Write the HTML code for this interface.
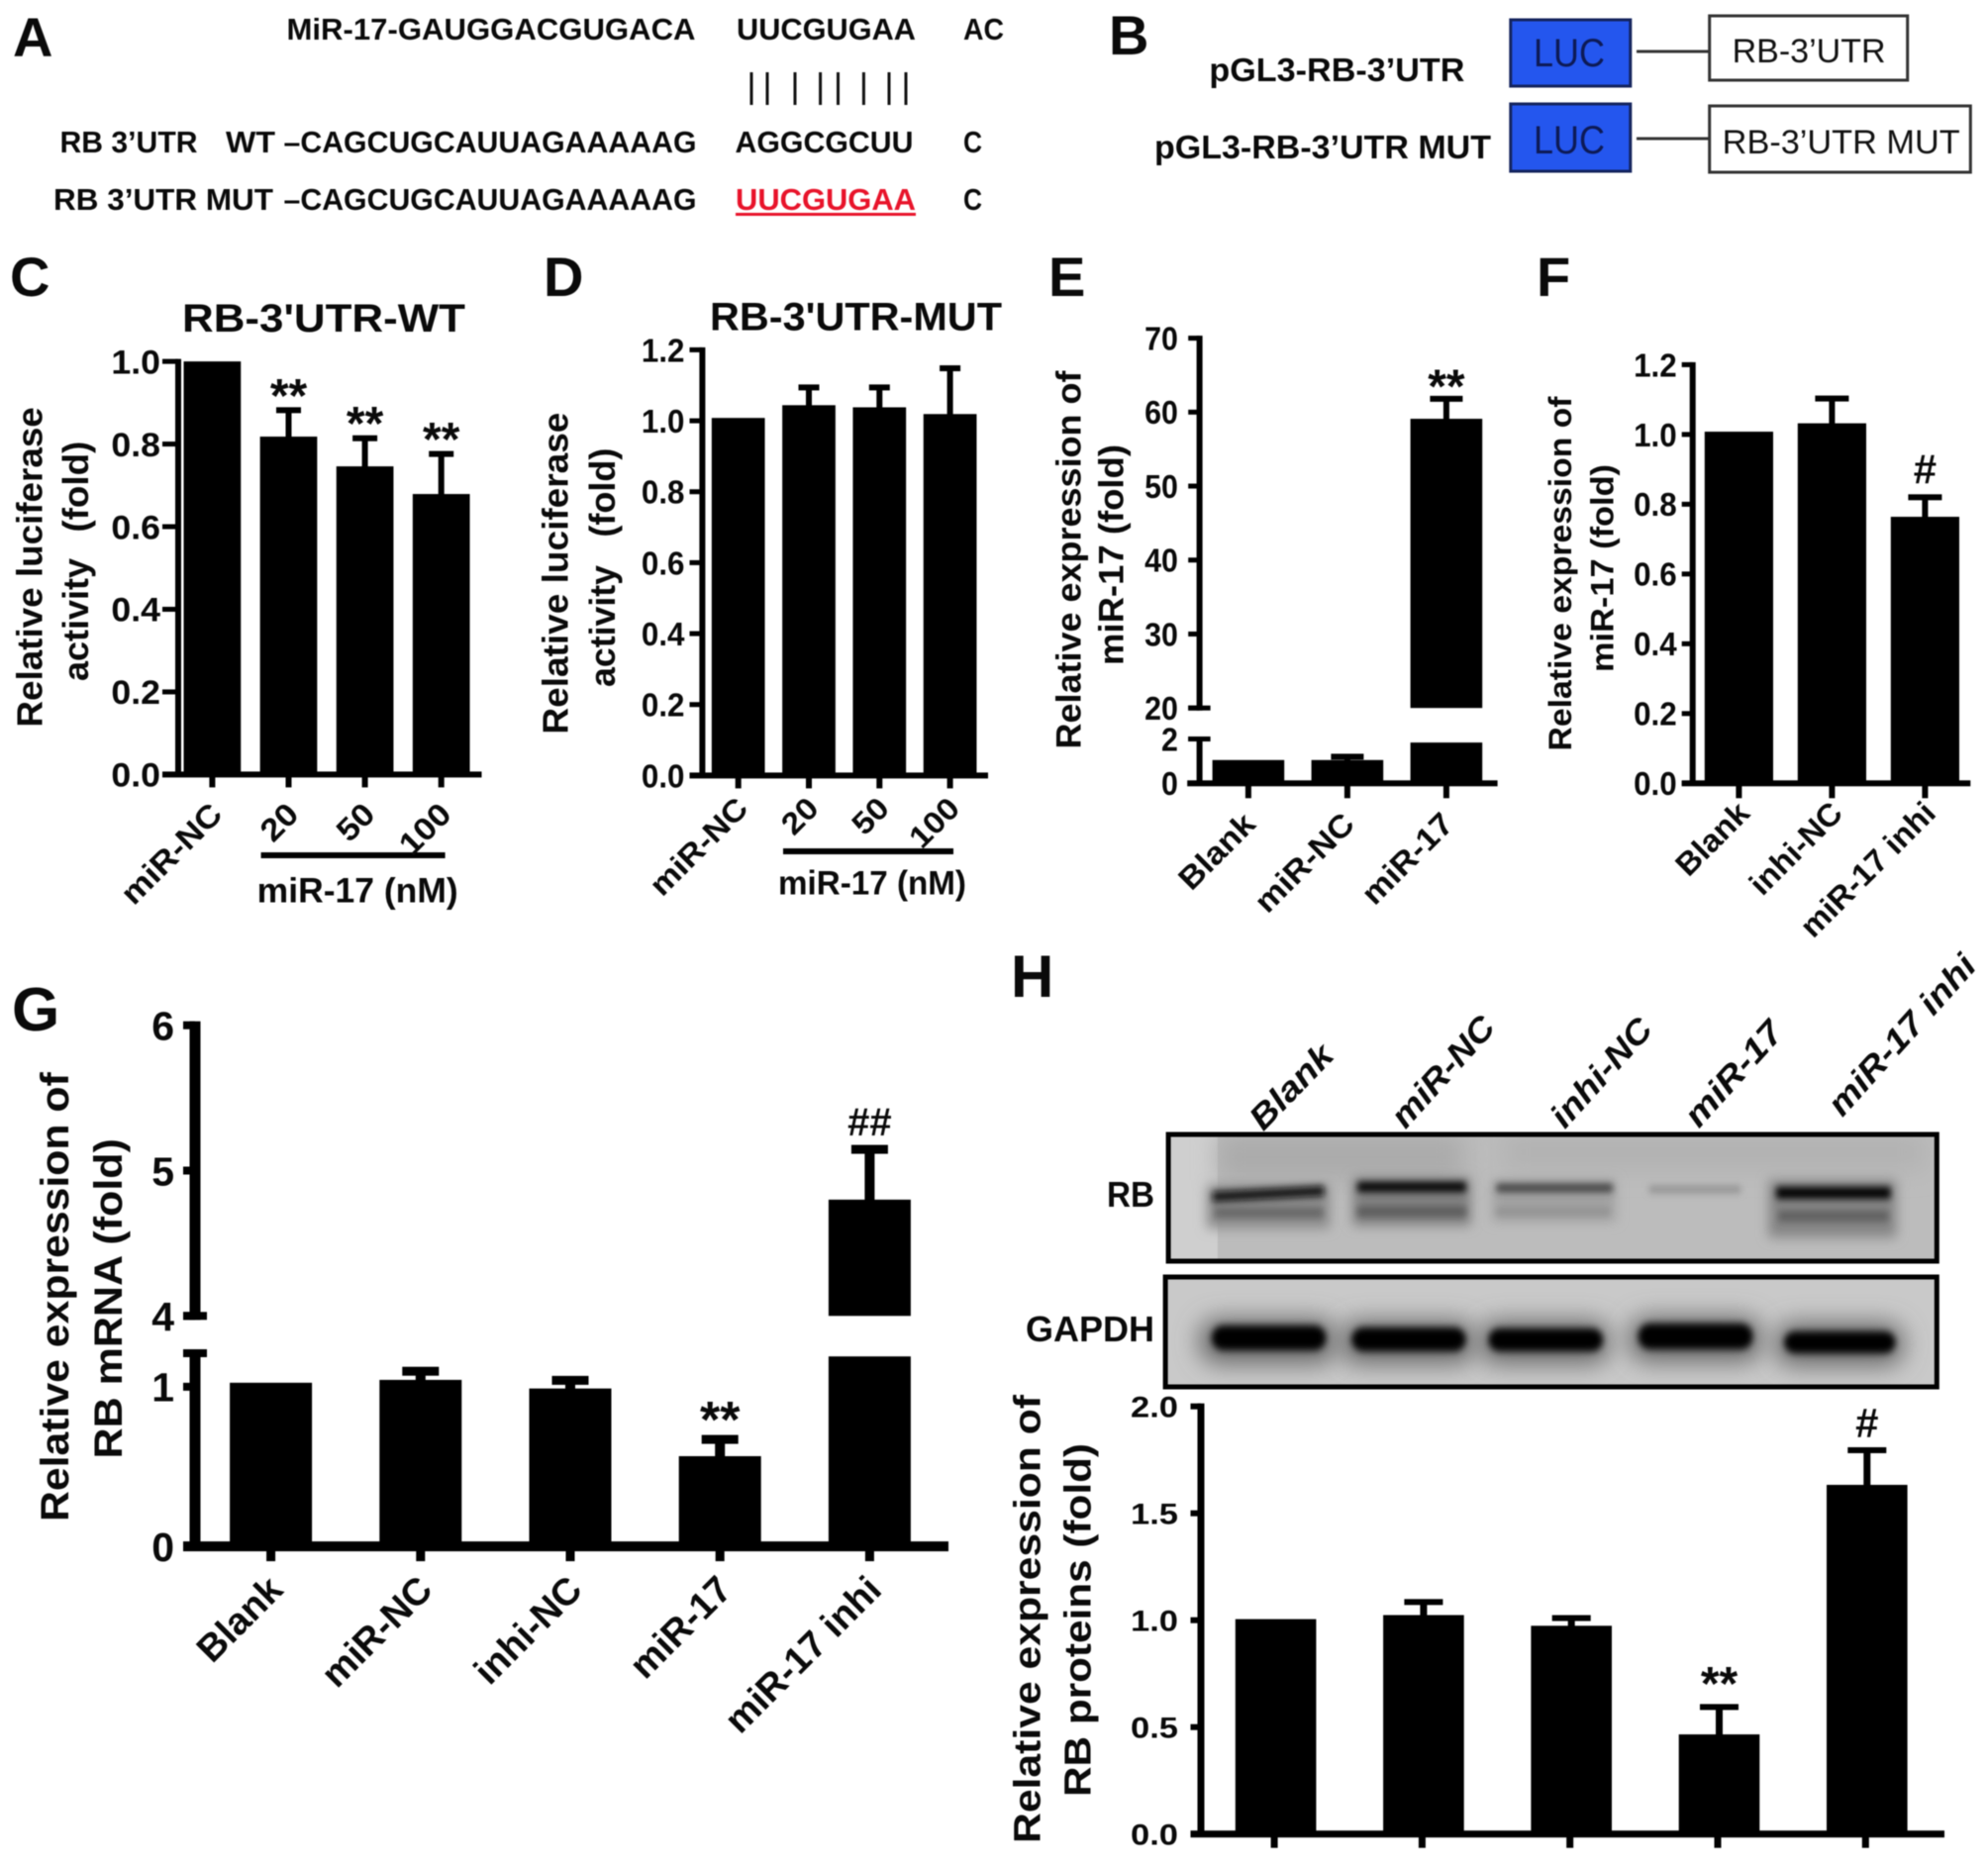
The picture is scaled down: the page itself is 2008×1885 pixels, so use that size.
<!DOCTYPE html>
<html lang="en">
<head>
<meta charset="utf-8">
<title>miR-17 RB figure</title>
<style>
html,body{margin:0;padding:0;background:#fff;}
#figure{display:block;width:2008px;height:1885px;filter:blur(0.6px);font-family:"Liberation Sans",sans-serif;}
#figure text{font-family:"Liberation Sans",sans-serif;fill:#0a0a0a;}
.b{font-weight:bold;}
.letter{font-weight:bold;font-size:56px;}
.seq{font-weight:bold;font-size:31px;fill:#111;}
.ytitle{font-weight:bold;font-size:36px;}
.ytitle-lg{font-weight:bold;font-size:40px;}
.title{font-weight:bold;font-size:40px;}
</style>
</head>
<body>
<svg id="figure" xmlns="http://www.w3.org/2000/svg" width="2008" height="1885" viewBox="0 0 2008 1885">
<defs>
<filter id="blur3" x="-20%" y="-150%" width="140%" height="400%"><feGaussianBlur stdDeviation="3.6"/></filter>
<filter id="blur5" x="-20%" y="-100%" width="140%" height="300%"><feGaussianBlur stdDeviation="6"/></filter>
<filter id="blur12" x="-30%" y="-150%" width="160%" height="400%"><feGaussianBlur stdDeviation="12"/></filter>
<clipPath id="rb-clip"><rect x="1181" y="1146" width="780" height="128"/></clipPath>
<clipPath id="gapdh-clip"><rect x="1178" y="1290" width="783" height="111"/></clipPath>
</defs>
<rect x="0" y="0" width="2008" height="1885" fill="#fff"/>

<!-- panel letters -->
<text class="letter" x="13" y="57">A</text>
<text class="letter" x="1120" y="55">B</text>
<text class="letter" x="10" y="299">C</text>
<text class="letter" x="549" y="299">D</text>
<text class="letter" x="1059" y="299">E</text>
<text class="letter" x="1552" y="299">F</text>
<text class="letter" x="12" y="1041" style="font-size:62px">G</text>
<text class="letter" x="1021" y="1007" style="font-size:60px">H</text>

<!-- panel A -->
<g>
<text class="seq" x="289.5" y="40" textLength="413" lengthAdjust="spacingAndGlyphs">MiR-17-GAUGGACGUGACA</text>
<text class="seq" x="744" y="40" textLength="181" lengthAdjust="spacingAndGlyphs">UUCGUGAA</text>
<text class="seq" x="973" y="40" textLength="41" lengthAdjust="spacingAndGlyphs">AC</text>
<g stroke="#111" stroke-width="3">
<line x1="759" y1="73" x2="759" y2="106"/><line x1="775" y1="73" x2="775" y2="106"/>
<line x1="803" y1="73" x2="803" y2="106"/><line x1="828.6" y1="73" x2="828.6" y2="106"/>
<line x1="846.5" y1="73" x2="846.5" y2="106"/><line x1="872.4" y1="73" x2="872.4" y2="106"/>
<line x1="898" y1="73" x2="898" y2="106"/><line x1="915" y1="73" x2="915" y2="106"/>
</g>
<text class="seq" x="60.5" y="154" textLength="139" lengthAdjust="spacingAndGlyphs">RB 3’UTR</text>
<text class="seq" x="228" y="154" textLength="50" lengthAdjust="spacingAndGlyphs">WT</text>
<text class="seq" x="286.5" y="154" textLength="417" lengthAdjust="spacingAndGlyphs">–CAGCUGCAUUAGAAAAAG</text>
<text class="seq" x="742.5" y="154" textLength="180" lengthAdjust="spacingAndGlyphs">AGGCGCUU</text>
<text class="seq" x="973" y="154" textLength="19" lengthAdjust="spacingAndGlyphs">C</text>
<text class="seq" x="54" y="212" textLength="222" lengthAdjust="spacingAndGlyphs">RB 3’UTR MUT</text>
<text class="seq" x="286.5" y="212" textLength="417" lengthAdjust="spacingAndGlyphs">–CAGCUGCAUUAGAAAAAG</text>
<text class="seq" x="743" y="212" textLength="182" lengthAdjust="spacingAndGlyphs" style="fill:#e8132a">UUCGUGAA</text>
<rect x="743" y="215" width="182" height="3" fill="#e8132a"/>
<text class="seq" x="973" y="212" textLength="19" lengthAdjust="spacingAndGlyphs">C</text>
</g>

<!-- panel B -->
<g>
<text class="b" x="1221.4" y="82" font-size="33" textLength="258" lengthAdjust="spacingAndGlyphs">pGL3-RB-3’UTR</text>
<text class="b" x="1166" y="160" font-size="33" textLength="340" lengthAdjust="spacingAndGlyphs">pGL3-RB-3’UTR MUT</text>
<rect x="1525.8" y="20" width="121" height="67" fill="#2456ee" stroke="#14245e" stroke-width="3"/>
<rect x="1525.8" y="105" width="121" height="68" fill="#2456ee" stroke="#14245e" stroke-width="3"/>
<text x="1549" y="67" font-size="40" textLength="72" lengthAdjust="spacingAndGlyphs" style="fill:#0d1a55">LUC</text>
<text x="1549" y="155" font-size="40" textLength="72" lengthAdjust="spacingAndGlyphs" style="fill:#0d1a55">LUC</text>
<line x1="1653" y1="52" x2="1725.7" y2="52" stroke="#333" stroke-width="3"/>
<line x1="1653" y1="140" x2="1725.7" y2="140" stroke="#333" stroke-width="3"/>
<rect x="1726.7" y="16" width="200" height="65" fill="#fff" stroke="#333" stroke-width="3"/>
<rect x="1726.7" y="107" width="263.6" height="67" fill="#fff" stroke="#333" stroke-width="3"/>
<text x="1749.6" y="63" font-size="34" textLength="155" lengthAdjust="spacingAndGlyphs" style="fill:#111">RB-3’UTR</text>
<text x="1739.7" y="155" font-size="34" textLength="240" lengthAdjust="spacingAndGlyphs" style="fill:#111">RB-3’UTR MUT</text>
</g>

<!-- titles and axis titles -->
<text class="title" x="184" y="335" textLength="286" lengthAdjust="spacingAndGlyphs">RB-3'UTR-WT</text>
<text class="title" x="717" y="333.5" textLength="295" lengthAdjust="spacingAndGlyphs">RB-3'UTR-MUT</text>

<text class="ytitle" transform="translate(42.5,734.6) rotate(-90)" textLength="323.4" lengthAdjust="spacingAndGlyphs">Relative luciferase</text>
<text class="ytitle" transform="translate(89,688) rotate(-90)" textLength="124" lengthAdjust="spacingAndGlyphs">activity</text>
<text class="ytitle" transform="translate(89,537.6) rotate(-90)" textLength="92" lengthAdjust="spacingAndGlyphs">(fold)</text>

<text class="ytitle" transform="translate(573.5,741.6) rotate(-90)" textLength="325" lengthAdjust="spacingAndGlyphs">Relative luciferase</text>
<text class="ytitle" transform="translate(621,694) rotate(-90)" textLength="123" lengthAdjust="spacingAndGlyphs">activity</text>
<text class="ytitle" transform="translate(621,542.6) rotate(-90)" textLength="90" lengthAdjust="spacingAndGlyphs">(fold)</text>

<text class="ytitle" style="font-size:35px" transform="translate(1091.5,756.5) rotate(-90)" textLength="382" lengthAdjust="spacingAndGlyphs">Relative expression of</text>
<text class="ytitle" style="font-size:35px" transform="translate(1134.5,672) rotate(-90)" textLength="223" lengthAdjust="spacingAndGlyphs">miR-17 (fold)</text>

<text class="ytitle" style="font-size:32px" transform="translate(1587,758.5) rotate(-90)" textLength="358" lengthAdjust="spacingAndGlyphs">Relative expression of</text>
<text class="ytitle" style="font-size:32px" transform="translate(1629.5,679) rotate(-90)" textLength="210" lengthAdjust="spacingAndGlyphs">miR-17 (fold)</text>

<text class="ytitle-lg" transform="translate(69,1537) rotate(-90)" textLength="453.7" lengthAdjust="spacingAndGlyphs">Relative expression of</text>
<text class="ytitle-lg" transform="translate(123,1473.5) rotate(-90)" textLength="323.4" lengthAdjust="spacingAndGlyphs">RB mRNA (fold)</text>

<text class="ytitle-lg" style="font-size:38px" transform="translate(1050.5,1862) rotate(-90)" textLength="453" lengthAdjust="spacingAndGlyphs">Relative expression of</text>
<text class="ytitle-lg" style="font-size:38px" transform="translate(1101.5,1815) rotate(-90)" textLength="357" lengthAdjust="spacingAndGlyphs">RB proteins (fold)</text>

<!-- dose annotation C / D -->
<rect x="263.6" y="861" width="186" height="6" fill="#000"/>
<text class="b" x="259.7" y="911.7" font-size="35" textLength="203" lengthAdjust="spacingAndGlyphs">miR-17 (nM)</text>
<rect x="791" y="857" width="172" height="6" fill="#000"/>
<text class="b" x="786" y="903.7" font-size="34" textLength="190" lengthAdjust="spacingAndGlyphs">miR-17 (nM)</text>

<!-- western blot H -->
<g>
<g font-weight="bold" font-size="34" font-style="italic">
<text transform="translate(1349,1068) rotate(-46)" text-anchor="end" textLength="105" lengthAdjust="spacingAndGlyphs">Blank</text>
<text transform="translate(1512,1039) rotate(-48)" text-anchor="end" textLength="138" lengthAdjust="spacingAndGlyphs">miR-NC</text>
<text transform="translate(1671,1041) rotate(-48)" text-anchor="end" textLength="135" lengthAdjust="spacingAndGlyphs">inhi-NC</text>
<text transform="translate(1803,1044) rotate(-48)" text-anchor="end" textLength="130" lengthAdjust="spacingAndGlyphs">miR-17</text>
<text transform="translate(1998,977) rotate(-48)" text-anchor="end" textLength="205" lengthAdjust="spacingAndGlyphs">miR-17 inhi</text>
</g>
<text class="b" x="1118" y="1219" font-size="36" textLength="48" lengthAdjust="spacingAndGlyphs">RB</text>
<text class="b" x="1036" y="1355" font-size="36" textLength="130" lengthAdjust="spacingAndGlyphs">GAPDH</text>

<g transform="translate(1000 0) scale(0.99511 1) translate(-1000 0)">
<g clip-path="url(#rb-clip)">
<rect x="1181" y="1146" width="780" height="128" fill="#bcbcbc"/>
<rect x="1181" y="1146" width="50" height="128" fill="#cfcfcf"/>
<rect x="1231" y="1146" width="250" height="46" fill="#ababab" filter="url(#blur12)"/>
<rect x="1520" y="1146" width="430" height="36" fill="#b2b2b2" filter="url(#blur12)"/>
<rect x="1220" y="1197" width="125" height="44" fill="#8c8c8c" filter="url(#blur5)"/>
<rect x="1368" y="1190" width="120" height="48" fill="#808080" filter="url(#blur5)"/>
<rect x="1510" y="1192" width="125" height="42" fill="#a2a2a2" filter="url(#blur5)"/>
<rect x="1790" y="1192" width="130" height="58" fill="#858585" filter="url(#blur5)"/>
<path d="M1226 1204 L1339 1198 L1339 1208 L1226 1214 Z" fill="#0a0a0a" filter="url(#blur3)"/>
<rect x="1373" y="1194" width="110" height="10" fill="#050505" filter="url(#blur3)"/>
<rect x="1514" y="1196" width="118" height="8" fill="#3a3a3a" filter="url(#blur3)"/>
<rect x="1669" y="1198" width="93" height="7" fill="#8e8e8e" filter="url(#blur3)"/>
<rect x="1798" y="1199" width="116" height="12" fill="#000" filter="url(#blur3)"/>
<rect x="1228" y="1220" width="110" height="10" fill="#666" filter="url(#blur3)"/>
<rect x="1373" y="1219" width="110" height="10" fill="#5c5c5c" filter="url(#blur3)"/>
<rect x="1514" y="1220" width="115" height="8" fill="#929292" filter="url(#blur3)"/>
<rect x="1800" y="1223" width="112" height="11" fill="#606060" filter="url(#blur3)"/>
</g>
<rect x="1181" y="1146" width="780" height="128" fill="none" stroke="#000" stroke-width="5"/>

<g clip-path="url(#gapdh-clip)">
<rect x="1178" y="1290" width="783" height="111" fill="#c9c9c9"/>
<rect x="1212" y="1332" width="140" height="46" rx="20" fill="#6a6a6a" filter="url(#blur12)"/>
<rect x="1355" y="1334" width="138" height="44" rx="20" fill="#6a6a6a" filter="url(#blur12)"/>
<rect x="1496" y="1334" width="134" height="44" rx="20" fill="#6a6a6a" filter="url(#blur12)"/>
<rect x="1648" y="1330" width="136" height="46" rx="20" fill="#6a6a6a" filter="url(#blur12)"/>
<rect x="1796" y="1336" width="132" height="44" rx="20" fill="#6a6a6a" filter="url(#blur12)"/>
<rect x="1225" y="1339" width="116" height="25" rx="12" fill="#000" filter="url(#blur3)"/>
<rect x="1367" y="1341" width="116" height="24" rx="12" fill="#000" filter="url(#blur3)"/>
<rect x="1506" y="1342" width="116" height="23" rx="11" fill="#000" filter="url(#blur3)"/>
<rect x="1658" y="1337" width="116" height="26" rx="12" fill="#000" filter="url(#blur3)"/>
<rect x="1806" y="1345" width="113" height="22" rx="11" fill="#000" filter="url(#blur3)"/>
</g>
<rect x="1178" y="1290" width="783" height="111" fill="none" stroke="#000" stroke-width="5"/>
</g>
</g>
</svg>

<script>
// ---- Panel C data ----
const panelCCategories = ['miR-NC', '20', '50', '100'];
const panelCValues = [1.0, 0.818, 0.746, 0.679];
const panelCErrors = [0, 0.064, 0.068, 0.097];
const panelCMarks = ['', '**', '**', '**'];
const panelCTicks = [0, 0.2, 0.4, 0.6, 0.8, 1.0];
const panelCTickLabels = ['0.0', '0.2', '0.4', '0.6', '0.8', '1.0'];

// ---- Panel D data ----
const panelDCategories = ['miR-NC', '20', '50', '100'];
const panelDValues = [1.008, 1.044, 1.038, 1.019];
const panelDErrors = [0, 0.05, 0.056, 0.129];
const panelDMarks = ['', '', '', ''];
const panelDTicks = [0, 0.2, 0.4, 0.6, 0.8, 1.0, 1.2];
const panelDTickLabels = ['0.0', '0.2', '0.4', '0.6', '0.8', '1.0', '1.2'];

// ---- Panel E data ----
const panelECategories = ['Blank', 'miR-NC', 'miR-17'];
const panelEValues = [1.05, 1.05, 59.1];
const panelEErrors = [0, 0.15, 2.7];
const panelEMarks = ['', '', '**'];
const panelETicks = [0, 2, 20, 30, 40, 50, 60, 70];
const panelETickLabels = ['0', '2', '20', '30', '40', '50', '60', '70'];

// ---- Panel F data ----
const panelFCategories = ['Blank', 'inhi-NC', 'miR-17 inhi'];
const panelFValues = [1.008, 1.032, 0.764];
const panelFErrors = [0, 0.071, 0.056];
const panelFMarks = ['', '', '#'];
const panelFTicks = [0, 0.2, 0.4, 0.6, 0.8, 1.0, 1.2];
const panelFTickLabels = ['0.0', '0.2', '0.4', '0.6', '0.8', '1.0', '1.2'];

// ---- Panel G data ----
const panelGCategories = ['Blank', 'miR-NC', 'inhi-NC', 'miR-17', 'miR-17 inhi'];
const panelGValues = [1.025, 1.043, 0.989, 0.565, 4.8];
const panelGErrors = [0, 0.054, 0.051, 0.105, 0.346];
const panelGMarks = ['', '', '', '**', '##'];
const panelGTicks = [0, 1, 4, 5, 6];
const panelGTickLabels = ['0', '1', '4', '5', '6'];

// ---- Panel H data ----
const panelHCategories = ['Blank', 'miR-NC', 'inhi-NC', 'miR-17', 'miR-17 inhi'];
const panelHValues = [1.005, 1.024, 0.974, 0.466, 1.633];
const panelHErrors = [0, 0.061, 0.036, 0.128, 0.162];
const panelHMarks = ['', '', '', '**', '#'];
const panelHTicks = [0, 0.5, 1.0, 1.5, 2.0];
const panelHTickLabels = ['0.0', '0.5', '1.0', '1.5', '2.0'];

const figure = document.getElementById('figure');
const SVG_NS = 'http://www.w3.org/2000/svg';

function linearScale(domain, range) {
  return function (v) {
    return range[0] + (v - domain[0]) * (range[1] - range[0]) / (domain[1] - domain[0]);
  };
}

function segmentFor(segments, v) {
  for (let i = 0; i < segments.length; i++) {
    if (v <= segments[i].domain[1]) return segments[i];
  }
  return segments[segments.length - 1];
}

function yAxis(segments) {
  return function (v) {
    const s = segmentFor(segments, v);
    return linearScale(s.domain, s.range)(v);
  };
}

function xAxis(layout) {
  return function (i) {
    return layout.firstX + i * layout.step;
  };
}

function box(parent, x, y, w, h) {
  const el = document.createElementNS(SVG_NS, 'rect');
  el.setAttribute('x', x);
  el.setAttribute('y', y);
  el.setAttribute('width', w);
  el.setAttribute('height', h);
  el.setAttribute('fill', '#000');
  parent.appendChild(el);
  return el;
}

function label(parent, content, fontSize) {
  const el = document.createElementNS(SVG_NS, 'text');
  el.textContent = content;
  el.setAttribute('font-size', fontSize);
  el.setAttribute('font-weight', 'bold');
  parent.appendChild(el);
  return el;
}

function stretch(el, k) {
  el.setAttribute('textLength', el.getComputedTextLength() * k);
  el.setAttribute('lengthAdjust', 'spacingAndGlyphs');
}

function drawPanel(id, categories, values, errors, marks, ticks, tickLabels, L) {
  const y = yAxis(L.segments);
  const x = xAxis(L);
  const base = L.segments[0].range[0];

  const g = document.createElementNS(SVG_NS, 'g');
  
  
  figure.appendChild(g);

  // bars
  values.forEach(function (v, i) {
    L.segments.forEach(function (seg) {
      if (v < seg.domain[0]) return;
      const scale = linearScale(seg.domain, seg.range);
      const top = Math.min(v, seg.clip);
      const yTop = scale(top);
      const yBottom = scale(seg.domain[0]);
      const bar = box(g, x(i) - L.barW / 2, yTop, L.barW, yBottom - yTop);
      
      
    });
  });

  // error bars and significance marks
  values.forEach(function (v, i) {
    const e = errors[i];
    const yBar = y(v);
    const yErr = e > 0 ? y(v + e) : yBar;
    if (e > 0) {
      const stem = box(g, x(i) - L.stemW / 2, yErr, L.stemW, yBar - yErr + 1);
      
      
      const cap = box(g, x(i) - L.capW / 2, yErr - L.capH / 2, L.capW, L.capH);
      
      
    }
    if (marks[i]) {
      const isHash = marks[i].charAt(0) === '#';
      const m = label(g, marks[i], isHash ? L.hashSize : L.starSize);
      m.setAttribute('text-anchor', 'middle');
      m.setAttribute('x', x(i));
      m.setAttribute('y', yErr + (isHash ? L.hashDy : L.starDy));
      
      
    }
  });

  // y axis segments
  L.segments.forEach(function (seg, si) {
    const line = box(g, L.axisX - L.axisW / 2, seg.range[1] - L.tickW / 2, L.axisW, seg.range[0] - seg.range[1] + L.tickW);
    
    
    if (L.segments.length > 1) {
      const breakY = si === 0 ? seg.range[1] : seg.range[0];
      const brk = box(g, L.tickLeft, breakY - L.tickW / 2, L.axisX + L.breakExt - L.tickLeft, L.tickW);
      
      
    }
  });

  // y ticks
  ticks.forEach(function (t, i) {
    const ty = y(t);
    const tick = box(g, L.tickLeft, ty - L.tickW / 2, L.axisX - L.tickLeft, L.tickW);
    
    
    const tl = label(g, tickLabels[i], L.tickFont);
    tl.setAttribute('text-anchor', 'end');
    tl.setAttribute('x', L.tickRight);
    tl.setAttribute('y', ty + L.tickFont * 0.36);
    
    
    stretch(tl, L.tickStretch);
  });

  // x axis
  const xLine = box(g, L.xStart, base - L.xAxisH / 2, L.xEnd - L.xStart, L.xAxisH);
  
  

  // x ticks and labels
  categories.forEach(function (c, i) {
    const tx = x(i) + L.tickShift;
    const xt = box(g, tx - L.xTickW / 2, base, L.xTickW, L.xTickLen);
    
    
    if (L.xLabelFont) {
      const lx = tx + L.lblDx;
      const ly = base + L.lblDy;
      const xl = label(g, c, L.xLabelFont);
      xl.setAttribute('text-anchor', 'end');
      xl.setAttribute('transform', 'translate(' + lx + ',' + ly + ') rotate(-45)');
      
      
      stretch(xl, L.lblStretch);
    }
  });
}

const layoutC = {
  segments: [{domain: [0, 1], range: [782.4, 365.1], clip: 1}],
  firstX: 214.4, step: 77.1, barW: 57.7, stemW: 6, capW: 25, capH: 6,
  axisX: 180, axisW: 6, tickW: 5, tickLeft: 164, tickRight: 162, tickFont: 34, tickStretch: 1.05, breakExt: 0,
  xStart: 164, xEnd: 486.5, xAxisH: 6, xTickW: 6, xTickLen: 13, tickShift: 0,
  xLabelFont: 32, lblDx: 12, lblDy: 42, lblStretch: 1.1,
  starSize: 48, starDy: 1.5, hashSize: 42, hashDy: -16
};
const layoutD = {
  segments: [{domain: [0, 1.2], range: [783.4, 353.4], clip: 1.2}],
  firstX: 745.7, step: 71.3, barW: 53.7, stemW: 6, capW: 21, capH: 6,
  axisX: 709.4, axisW: 6, tickW: 5, tickLeft: 696.5, tickRight: 691.5, tickFont: 33, tickStretch: 0.95, breakExt: 0,
  xStart: 696.5, xEnd: 998, xAxisH: 6, xTickW: 6, xTickLen: 13, tickShift: 0,
  xLabelFont: 31, lblDx: 11.6, lblDy: 35, lblStretch: 1.1,
  starSize: 48, starDy: 1.5, hashSize: 42, hashDy: -16
};
const layoutE = {
  segments: [
    {domain: [0, 2], range: [791.3, 746.5], clip: 1.84},
    {domain: [20, 70], range: [715.2, 341.6], clip: 70}
  ],
  firstX: 1260.9, step: 100, barW: 72.6, stemW: 6, capW: 33, capH: 6,
  axisX: 1211.6, axisW: 6, tickW: 5, tickLeft: 1200.2, tickRight: 1189.9, tickFont: 33, tickStretch: 0.92, breakExt: 11,
  xStart: 1199.2, xEnd: 1512.6, xAxisH: 6, xTickW: 6, xTickLen: 15, tickShift: 0,
  xLabelFont: 32, lblDx: 9, lblDy: 43, lblStretch: 1.08,
  starSize: 48, starDy: 3.6, hashSize: 42, hashDy: -16
};
const layoutF = {
  segments: [{domain: [0, 1.2], range: [791.3, 368.4], clip: 1.2}],
  firstX: 1756.4, step: 94, barW: 69.2, stemW: 6, capW: 34, capH: 6,
  axisX: 1709.7, axisW: 6, tickW: 5, tickLeft: 1698.7, tickRight: 1693.7, tickFont: 33, tickStretch: 0.95, breakExt: 0,
  xStart: 1698.7, xEnd: 1990.3, xAxisH: 6, xTickW: 6, xTickLen: 15, tickShift: 0,
  xLabelFont: 32, lblDx: 12.6, lblDy: 32, lblStretch: 1.03,
  starSize: 48, starDy: 1.5, hashSize: 42, hashDy: -14
};
const layoutG = {
  segments: [
    {domain: [0, 1.21], range: [1562.1, 1367], clip: 1.19},
    {domain: [4, 6], range: [1329.3, 1035.7], clip: 6}
  ],
  firstX: 273.6, step: 151.2, barW: 83, stemW: 10, capW: 37, capH: 9,
  axisX: 197, axisW: 11, tickW: 8, tickLeft: 185, tickRight: 176, tickFont: 41, tickStretch: 1.0, breakExt: 12,
  xStart: 185, xEnd: 958, xAxisH: 10, xTickW: 9, xTickLen: 15, tickShift: 0,
  xLabelFont: 38, lblDx: 14, lblDy: 46, lblStretch: 1.0,
  starSize: 52, starDy: -2, hashSize: 40, hashDy: -14
};
const layoutH = {
  segments: [{domain: [0, 2], range: [1852.7, 1420.7], clip: 2}],
  firstX: 1288.6, step: 149.3, barW: 81.6, stemW: 7, capW: 39, capH: 6,
  axisX: 1213, axisW: 7, tickW: 6, tickLeft: 1202.5, tickRight: 1190, tickFont: 30, tickStretch: 1.15, breakExt: 0,
  xStart: 1202.5, xEnd: 1964, xAxisH: 7, xTickW: 7, xTickLen: 14, tickShift: -1.5,
  xLabelFont: 0, lblDx: 0, lblDy: 0, lblStretch: 1,
  starSize: 48, starDy: -7.5, hashSize: 42, hashDy: -13
};

drawPanel('c', panelCCategories, panelCValues, panelCErrors, panelCMarks, panelCTicks, panelCTickLabels, layoutC);
drawPanel('d', panelDCategories, panelDValues, panelDErrors, panelDMarks, panelDTicks, panelDTickLabels, layoutD);
drawPanel('e', panelECategories, panelEValues, panelEErrors, panelEMarks, panelETicks, panelETickLabels, layoutE);
drawPanel('f', panelFCategories, panelFValues, panelFErrors, panelFMarks, panelFTicks, panelFTickLabels, layoutF);
drawPanel('g', panelGCategories, panelGValues, panelGErrors, panelGMarks, panelGTicks, panelGTickLabels, layoutG);
drawPanel('h', panelHCategories, panelHValues, panelHErrors, panelHMarks, panelHTicks, panelHTickLabels, layoutH);
</script>
</body>
</html>
